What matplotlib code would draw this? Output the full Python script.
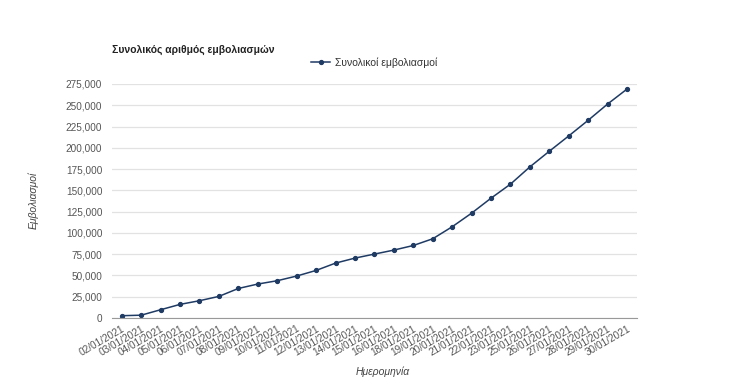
import matplotlib.pyplot as plt
from matplotlib.ticker import FuncFormatter

plt.rcParams['font.family'] = ['Liberation Sans', 'DejaVu Sans']

dates = ["02/01/2021", "03/01/2021", "04/01/2021", "05/01/2021", "06/01/2021",
         "07/01/2021", "08/01/2021", "09/01/2021", "10/01/2021", "11/01/2021",
         "12/01/2021", "13/01/2021", "14/01/2021", "15/01/2021", "16/01/2021",
         "18/01/2021", "19/01/2021", "20/01/2021", "21/01/2021", "22/01/2021",
         "23/01/2021", "25/01/2021", "26/01/2021", "27/01/2021", "28/01/2021",
         "29/01/2021", "30/01/2021"]
vaccinations = [2700, 3300, 9700, 16000, 20300, 25400, 34700, 39900, 43800, 49300,
                55900, 64500, 70400, 75100, 79800, 85200, 93100, 107200, 123200, 140800,
                157300, 177600, 196000, 214000, 232400, 251500, 269100]
y_ticks = list(range(0, 275001, 25000))

fig = plt.figure(figsize=(7.34, 3.87), dpi=100)
ax = fig.add_axes([0.1526, 0.1783, 0.715, 0.6047])

x = list(range(len(dates)))
ax.plot(x, vaccinations, color="#1f3b64", lw=1.1, marker="o", ms=2.8,
        label="Συνολικοί εμβολιασμοί", zorder=3)

ax.set_xlim(-0.5, len(dates) - 0.5)
ax.set_ylim(0, 275000)
ax.set_yticks(y_ticks)
ax.yaxis.set_major_formatter(FuncFormatter(lambda v, p: "{:,}".format(int(v))))
ax.set_xticks(x)
ax.set_xticklabels(dates, rotation=30, ha="right", rotation_mode="anchor")
ax.tick_params(axis="both", length=0, labelsize=7.2, labelcolor="#555555")
ax.tick_params(axis="y", pad=7)
ax.tick_params(axis="x", pad=4)

ax.grid(axis="y", color="#e2e2e2", lw=0.9)
ax.set_axisbelow(True)
for s in ["left", "right", "top"]:
    ax.spines[s].set_visible(False)
ax.spines["bottom"].set_color("#999999")
ax.spines["bottom"].set_zorder(4)

fig.text(112 / 734, 1 - 50 / 387, "Συνολικός αριθμός εμβολιασμών", fontsize=7.5,
         fontweight="bold", va="center", ha="left", color="#222222")
ax.legend(loc="lower center", bbox_to_anchor=(0.5, 1.03), frameon=False,
          fontsize=7.5, handlelength=1.8, handletextpad=0.5, labelcolor="#333333")

fig.text(33 / 734, 1 - 200 / 387, "Εμβολιασμοί", rotation=90, fontsize=7.5,
         style="italic", va="center", ha="center", color="#444444")
fig.text(383 / 734, 1 - 372 / 387, "Ημερομηνία", fontsize=7.5,
         style="italic", va="center", ha="center", color="#444444")

fig.savefig("out.png", dpi=100, facecolor="white")
